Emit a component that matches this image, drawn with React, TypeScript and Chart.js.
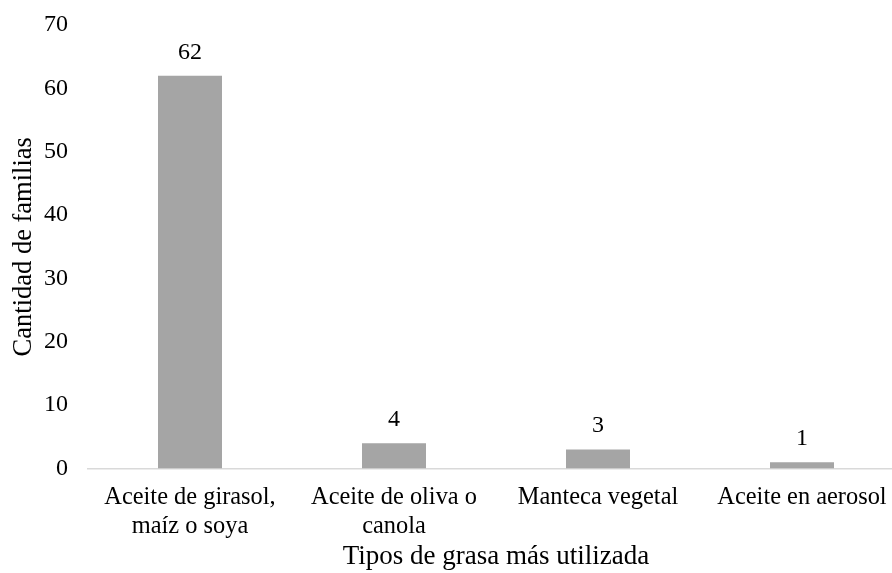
import React, { useEffect, useRef } from "react";
import { Chart, registerables } from "chart.js";

Chart.register(...registerables);

const categories: (string | string[])[] = [
  ["Aceite de girasol,", "maíz o soya"],
  ["Aceite de oliva o", "canola"],
  "Manteca vegetal",
  "Aceite en aerosol",
];
const familias: number[] = [62, 4, 3, 1];
const yTitle = "Cantidad de familias";
const xTitle = "Tipos de grasa más utilizada";
const yMin = 0;
const yMax = 70;
const yStep = 10;

const FONT = "'Liberation Serif', 'Times New Roman', serif";

const valueLabels = {
  id: "valueLabels",
  afterDatasetsDraw(chart: any) {
    const { ctx } = chart;
    const meta = chart.getDatasetMeta(0);
    ctx.save();
    ctx.font = `24px ${FONT}`;
    ctx.fillStyle = "#000";
    ctx.textAlign = "center";
    ctx.textBaseline = "alphabetic";
    meta.data.forEach((bar: any, i: number) => {
      ctx.fillText(String(familias[i]), bar.x, bar.y - 17);
    });
    ctx.restore();
  },
};

export default function App() {
  const ref = useRef<HTMLCanvasElement | null>(null);
  useEffect(() => {
    if (!ref.current) return;
    const chart = new Chart(ref.current, {
      type: "bar",
      data: {
        labels: categories,
        datasets: [
          {
            data: familias,
            backgroundColor: "#A5A5A5",
            borderWidth: 0,
            barPercentage: 1,
            categoryPercentage: 64 / 204,
          },
        ],
      },
      options: {
        responsive: false,
        animation: false,
        devicePixelRatio: 1,
        layout: { padding: { top: 25, left: 0, right: 0, bottom: 0 } },
        plugins: {
          legend: { display: false },
          tooltip: { enabled: false },
        },
        scales: {
          x: {
            grid: { display: false, drawTicks: false },
            border: { display: true, color: "#D9D9D9", width: 1.5 },
            ticks: {
              color: "#000",
              font: { family: FONT, size: 24.4, lineHeight: 1.18 },
              padding: 15,
              maxRotation: 0,
              minRotation: 0,
              autoSkip: false,
            },
            title: {
              display: true,
              text: xTitle,
              color: "#000",
              font: { family: FONT, size: 27, lineHeight: 1.2 },
              padding: { top: 0, bottom: 0 },
            },
            afterFit: (s: any) => {
              s.height = 104.5;
              s.paddingLeft = 0;
              s.paddingRight = 0;
            },
          },
          y: {
            min: yMin,
            max: yMax,
            grid: { display: false, drawTicks: false },
            border: { display: false },
            ticks: {
              stepSize: yStep,
              color: "#000",
              font: { family: FONT, size: 24 },
              padding: 20,
            },
            title: {
              display: true,
              text: yTitle,
              color: "#000",
              font: { family: FONT, size: 26.5, lineHeight: 1.2 },
              padding: { top: 8, bottom: 0 },
            },
            afterFit: (s: any) => {
              s.width = 88;
              s.paddingTop = 0;
              s.paddingBottom = 0;
            },
          },
        },
      },
      plugins: [valueLabels],
    });
    return () => chart.destroy();
  }, []);

  return (
    <div
      style={{
        position: "fixed",
        left: 0,
        top: 0,
        width: 892,
        height: 573,
        overflow: "hidden",
        background: "#fff",
      }}
    >
      <canvas ref={ref} width={904} height={573} style={{ display: "block" }} />
    </div>
  );
}
